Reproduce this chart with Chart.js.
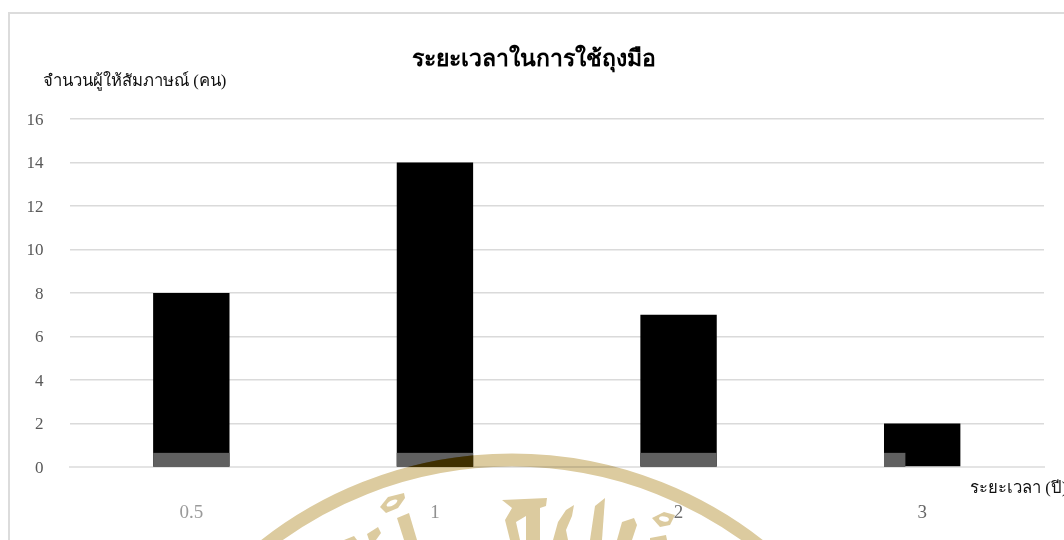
<!DOCTYPE html>
<html>
<head>
<meta charset="utf-8">
<script src="https://cdn.jsdelivr.net/npm/chart.js@4"></script>
<style>
  html, body { margin: 0; padding: 0; background: #fff; overflow: hidden; }
  #wrap { position: relative; width: 1064px; height: 540px; }
  #frame { position: absolute; left: 8px; top: 12px; right: -4px; bottom: -4px; border: 2px solid #dcdcdc; }
</style>
</head>
<body>
<div id="wrap">
  <div id="frame"></div>
  <canvas id="chart" width="1064" height="540"></canvas>
</div>
<script>
const categories = ['0.5', '1', '2', '3'];
const respondents = [8, 14, 7, 2];
const yTicks = [0, 2, 4, 6, 8, 10, 12, 14, 16];
const categoryColors = ['#9a9a9a', '#909090', '#707070', '#666666'];
// height of the grey strip at the foot of each bar, and how much of the bar it spans
const stripValues = [0.65, 0.65, 0.65, 0.65];
const stripSpans = [1, 1, 1, 0.28];

const titleText = 'ระยะเวลาในการใช้ถุงมือ';
const yTitleText = 'จำนวนผู้ให้สัมภาษณ์ (คน)';
const xTitleText = 'ระยะเวลา (ปี)';
const thaiSerif = '"Liberation Serif", "Noto Sans", serif';

// outlines of the seal lettering below the axis
const sealShapes = [
  [[380, 507], [388, 497], [404, 493], [405, 498], [398, 508], [386, 513]],
  [[409, 513], [417, 540], [404, 540], [397, 518]],
  [[367, 534], [378, 527], [381, 533], [376, 540], [369, 540]],
  [[344, 540], [354, 536], [357, 540]],
  [[502, 500], [547, 498], [546, 506], [540, 508], [540, 540], [526, 540], [526, 516], [516, 522], [520, 540], [510, 540], [505, 520], [512, 508]],
  [[553, 540], [558, 522], [566, 510], [574, 505], [572, 516], [566, 530], [568, 540]],
  [[590, 540], [595, 506], [605, 498], [602, 540]],
  [[617, 540], [622, 522], [634, 518], [637, 525], [632, 540]],
  [[652, 518], [664, 512], [675, 515], [670, 525], [660, 527]],
  [[650, 538], [666, 535], [667, 540], [650, 540]]
];

// seal ring, lettering and strip overlays on top of the bars
const overlays = {
  id: 'overlays',
  afterDatasetsDraw(chart) {
    const ctx = chart.ctx;
    const y = chart.scales.y;
    const bars = chart.getDatasetMeta(0).data;
    const ringPath = () => {
      ctx.beginPath();
      ctx.arc(512, 860, 400, 0, Math.PI * 2);
    };
    ctx.save();
    bars.forEach((bar, i) => {
      const left = bar.x - bar.width / 2;
      const top = y.getPixelForValue(stripValues[i]);
      ctx.fillStyle = '#606060';
      ctx.fillRect(left, top, bar.width * stripSpans[i], y.getPixelForValue(0) - top);
    });
    ctx.globalCompositeOperation = 'multiply';
    ctx.strokeStyle = '#dccb9f';
    ctx.fillStyle = '#dccb9f';
    ctx.lineWidth = 13;
    ringPath();
    ctx.stroke();
    sealShapes.forEach(shape => {
      ctx.beginPath();
      shape.forEach(([px, py]) => ctx.lineTo(px, py));
      ctx.closePath();
      ctx.fill();
    });
    // holes in the two loops
    ctx.globalCompositeOperation = 'source-over';
    ctx.fillStyle = '#fff';
    ctx.beginPath();
    ctx.ellipse(392, 503, 6, 2.5, -0.5, 0, Math.PI * 2);
    ctx.ellipse(664, 519, 5, 2.5, 0.2, 0, Math.PI * 2);
    ctx.fill();
    // where the ring crosses a strip it turns dark brown
    const bar = bars[1];
    const stripTop = y.getPixelForValue(stripValues[1]);
    ctx.beginPath();
    ctx.rect(bar.x - bar.width / 2, stripTop, bar.width, y.getPixelForValue(0) - stripTop);
    ctx.clip();
    ctx.strokeStyle = '#3f2f00';
    ringPath();
    ctx.stroke();
    ctx.restore();
  }
};

// title and axis captions sit at fixed spots above and beside the plot
const captions = {
  id: 'captions',
  afterDraw(chart) {
    const ctx = chart.ctx;
    ctx.save();
    ctx.textBaseline = 'middle';
    ctx.fillStyle = '#000';
    ctx.textAlign = 'center';
    ctx.font = 'bold 23px ' + thaiSerif;
    ctx.fillText(titleText, 534, 60);
    ctx.fillStyle = '#111';
    ctx.font = '16.7px ' + thaiSerif;
    ctx.textAlign = 'left';
    ctx.fillText(yTitleText, 43, 82);
    ctx.fillText(xTitleText, 970, 489);
    ctx.restore();
  }
};

new Chart(document.getElementById('chart').getContext('2d'), {
  type: 'bar',
  data: {
    labels: categories,
    datasets: [{
      data: respondents,
      backgroundColor: '#000000',
      barPercentage: 0.3135,
      categoryPercentage: 1
    }]
  },
  options: {
    responsive: false,
    animation: false,
    layout: { padding: { top: 119, right: 20 } },
    plugins: {
      legend: { display: false },
      tooltip: { enabled: false }
    },
    scales: {
      x: {
        afterFit(scale) { scale.height = 73; },
        grid: { display: false },
        border: { color: '#e4e4e4', width: 2 },
        ticks: {
          padding: 27,
          maxRotation: 0,
          color: categoryColors,
          font: { family: '"Liberation Serif", serif', size: 19 }
        }
      },
      y: {
        min: 0,
        max: 16,
        afterFit(scale) { scale.width = 69.5; },
        afterBuildTicks(scale) { scale.ticks = yTicks.map(v => ({ value: v })); },
        grid: { color: '#dadada', lineWidth: 1.4, drawTicks: false },
        border: { display: false },
        ticks: {
          padding: 26,
          labelOffset: 1.5,
          color: '#595959',
          font: { family: '"Liberation Serif", serif', size: 17 }
        }
      }
    }
  },
  plugins: [overlays, captions]
});
</script>
</body>
</html>
